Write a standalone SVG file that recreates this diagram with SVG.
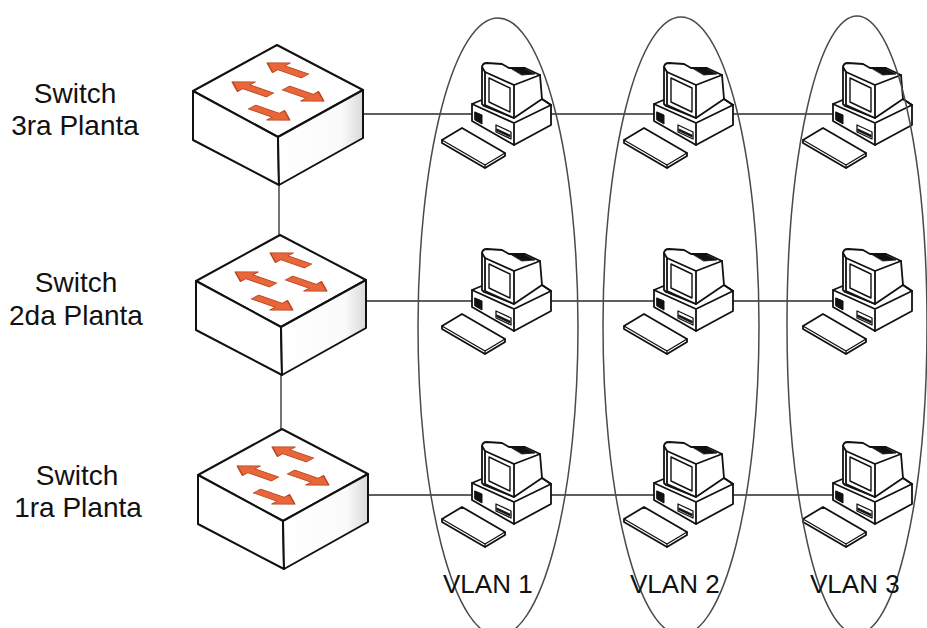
<svg xmlns="http://www.w3.org/2000/svg" xmlns:xlink="http://www.w3.org/1999/xlink" width="927" height="628" viewBox="0 0 927 628">
<defs>
<style>
.ln{stroke:#2a2a2a;stroke-width:1.3;fill:none}
.ov{fill:none;stroke:#4a4a4a;stroke-width:1.5}
.ol{stroke:#111;stroke-width:2;stroke-linejoin:round;stroke-linecap:round}
.pc{stroke:#111;stroke-width:1.8;stroke-linejoin:round;stroke-linecap:round}
.lbl{font-family:"Liberation Sans",Arial,sans-serif;font-size:28px;fill:#111;text-anchor:middle}
.vl{font-family:"Liberation Sans",Arial,sans-serif;font-size:26px;fill:#111}
.arw{fill:#E8663A;stroke:#B5441E;stroke-width:1.2;stroke-linejoin:round}
</style>
<linearGradient id="side" x1="0" y1="0" x2="1" y2="0">
<stop offset="0" stop-color="#ffffff"/>
<stop offset="0.75" stop-color="#fafafa"/>
<stop offset="1" stop-color="#d9d9d9"/>
</linearGradient>
<!-- flat arrow pointing along +x; placed on the switch top with a shear -->
<path id="arrow" d="M0,-4 L25,-4 L25,-10 L40,0 L25,10 L25,4 L0,4 Z"/>
<!-- switch box, origin = top corner of the top face -->
<g id="sw">
<path class="ol" fill="#fff" d="M0,0 L86,45 L1,92 L-84,46 Z"/>
<path class="ol" fill="#fff" d="M-84,46 L1,92 L2,140 L-84,95 Z"/>
<path class="ol" fill="url(#side)" d="M1,92 L86,45 L86,93 L2,140 Z"/>
<use xlink:href="#arrow" class="arw" transform="matrix(-0.945,-0.33,0.877,-0.48,28,31)"/>
<use xlink:href="#arrow" class="arw" transform="matrix(-0.945,-0.33,0.877,-0.48,-7,50)"/>
<use xlink:href="#arrow" class="arw" transform="matrix(0.945,0.33,0.877,-0.48,9,43)"/>
<use xlink:href="#arrow" class="arw" transform="matrix(0.945,0.33,0.877,-0.48,-25,62)"/>
</g>
<!-- desktop computer with keyboard -->
<g id="pcIcon" class="pc">
<!-- system unit -->
<path fill="#fff" d="M32,49 L44,44 L102,44 L111,50 L111,70 L74,90 L32,66 Z"/>
<path fill="none" d="M32,49 L74,68 L111,50 M74,68 L74,90"/>
<path fill="#111" stroke-width="1" d="M35,57 L42,60 L42,69 L35,65 Z"/>
<path fill="#fff" stroke-width="1.3" d="M56,70 L71,77 L71,84 L56,77 Z"/>
<path fill="#111" stroke-width="0.8" d="M57,74 L70,80 L70,82 L57,76 Z"/>
<!-- monitor -->
<path fill="#fff" d="M42,13 Q42,8 47,8 L62,9 L69,13 L85,13 L100,20 L102,44 L74,63 L44,51 L42,49 Z"/>
<path fill="#fff" d="M45,17 L74,30 L74,63 L45,50 Z"/>
<path fill="#fff" stroke-width="1.4" d="M49,23 L70,33 L70,57 L49,47 Z"/>
<path fill="none" d="M74,30 L100,20 M42,12 L45,17"/>
<path fill="#111" stroke-width="0.8" d="M72,14 L85,14 L95,19 L82,20 Z"/>
<path fill="none" d="M102,44 L111,50"/>
<!-- keyboard -->
<path fill="#fff" d="M2,85 L22,73 L65,98 L65,101 L45,113 L2,88 Z"/>
<path fill="none" stroke-width="1.3" d="M2,85 L45,110 L65,98 M45,110 L45,113"/>
</g>
</defs>

<rect width="927" height="628" fill="#fff"/>

<!-- links -->
<g id="connectors">
<path class="ln" d="M363,114 H840"/>
<path class="ln" d="M366,301 H840"/>
<path class="ln" d="M368,495 H840"/>
<path class="ln" d="M279,185 V235"/>
<path class="ln" d="M281,375 V429"/>
</g>

<!-- switches -->
<g id="switch-3ra">
<use xlink:href="#sw" transform="translate(277,45)"/>
<text class="lbl" x="75" y="103">Switch</text>
<text class="lbl" x="75" y="135">3ra Planta</text>
</g>
<g id="switch-2da">
<use xlink:href="#sw" transform="translate(280,235)"/>
<text class="lbl" x="76" y="292">Switch</text>
<text class="lbl" x="76" y="325">2da Planta</text>
</g>
<g id="switch-1ra">
<use xlink:href="#sw" transform="translate(282,429)"/>
<text class="lbl" x="77" y="485">Switch</text>
<text class="lbl" x="78" y="517">1ra Planta</text>
</g>

<!-- computers -->
<g id="pc-v1-r1"><use xlink:href="#pcIcon" transform="translate(440,55)"/></g>
<g id="pc-v2-r1"><use xlink:href="#pcIcon" transform="translate(622,55)"/></g>
<g id="pc-v3-r1"><use xlink:href="#pcIcon" transform="translate(801,55)"/></g>
<g id="pc-v1-r2"><use xlink:href="#pcIcon" transform="translate(440,241)"/></g>
<g id="pc-v2-r2"><use xlink:href="#pcIcon" transform="translate(622,241)"/></g>
<g id="pc-v3-r2"><use xlink:href="#pcIcon" transform="translate(801,241)"/></g>
<g id="pc-v1-r3"><use xlink:href="#pcIcon" transform="translate(440,434)"/></g>
<g id="pc-v2-r3"><use xlink:href="#pcIcon" transform="translate(622,434)"/></g>
<g id="pc-v3-r3"><use xlink:href="#pcIcon" transform="translate(801,434)"/></g>

<!-- VLAN groups -->
<g id="vlan1">
<ellipse class="ov" cx="498" cy="327" rx="80" ry="309"/>
<text class="vl" x="443" y="593">VLAN 1</text>
</g>
<g id="vlan2">
<ellipse class="ov" cx="681" cy="326" rx="78" ry="309"/>
<text class="vl" x="630" y="593">VLAN 2</text>
</g>
<g id="vlan3">
<ellipse class="ov" cx="857" cy="325" rx="70" ry="309"/>
<text class="vl" x="810" y="593">VLAN 3</text>
</g>
</svg>
